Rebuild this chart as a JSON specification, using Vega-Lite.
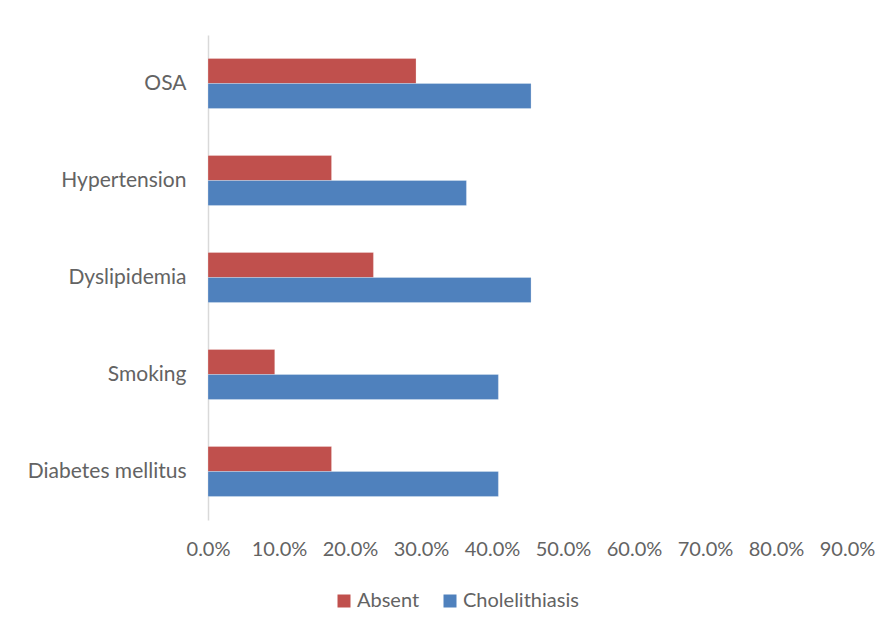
{
  "$schema": "https://vega.github.io/schema/vega-lite/v6.json",
  "width": 639,
  "height": 485,
  "autosize": {"type": "none"},
  "padding": {"left": 208, "top": 35, "right": 46, "bottom": 113},
  "background": "white",
  "data": {
    "values": [
      {"factor": "OSA", "group": "Absent", "pct": 0.293},
      {"factor": "OSA", "group": "Cholelithiasis", "pct": 0.455},
      {"factor": "Hypertension", "group": "Absent", "pct": 0.174},
      {"factor": "Hypertension", "group": "Cholelithiasis", "pct": 0.364},
      {"factor": "Dyslipidemia", "group": "Absent", "pct": 0.233},
      {"factor": "Dyslipidemia", "group": "Cholelithiasis", "pct": 0.455},
      {"factor": "Smoking", "group": "Absent", "pct": 0.094},
      {"factor": "Smoking", "group": "Cholelithiasis", "pct": 0.409},
      {"factor": "Diabetes mellitus", "group": "Absent", "pct": 0.174},
      {"factor": "Diabetes mellitus", "group": "Cholelithiasis", "pct": 0.409}
    ]
  },
  "mark": {"type": "bar", "stroke": "white", "strokeWidth": 0.5, "strokeOpacity": 0.5},
  "encoding": {
    "y": {
      "field": "factor",
      "type": "nominal",
      "sort": ["OSA", "Hypertension", "Dyslipidemia", "Smoking", "Diabetes mellitus"],
      "scale": {"paddingInner": 0.485, "paddingOuter": 0.2425},
      "axis": {
        "title": null,
        "ticks": false,
        "labelPadding": 22,
        "labelFont": "Lato",
        "labelFontSize": 21,
        "labelColor": "#636363",
        "domainColor": "#d9d9d9",
        "domainWidth": 1.5
      }
    },
    "yOffset": {
      "field": "group",
      "type": "nominal",
      "sort": ["Absent", "Cholelithiasis"]
    },
    "x": {
      "field": "pct",
      "type": "quantitative",
      "scale": {"domain": [0, 0.9], "nice": false},
      "axis": {
        "title": null,
        "format": ".1%",
        "values": [0, 0.1, 0.2, 0.3, 0.4, 0.5, 0.6, 0.7, 0.8, 0.9],
        "domain": false,
        "ticks": false,
        "grid": false,
        "labelPadding": 19,
        "labelFont": "Lato",
        "labelFontSize": 20,
        "labelColor": "#636363",
        "labelFlush": false,
        "labelOverlap": false
      }
    },
    "color": {
      "field": "group",
      "type": "nominal",
      "sort": ["Absent", "Cholelithiasis"],
      "scale": {"domain": ["Absent", "Cholelithiasis"], "range": ["#C0504D", "#4F81BD"]},
      "legend": {
        "title": null,
        "orient": "none",
        "direction": "horizontal",
        "legendX": 126,
        "legendY": 556,
        "symbolType": "square",
        "symbolSize": 169,
        "symbolStrokeWidth": 0,
        "labelFont": "Lato",
        "labelFontSize": 20,
        "labelColor": "#636363",
        "columnPadding": 20,
        "labelOffset": 3
      }
    }
  },
  "config": {"view": {"stroke": null}}
}
